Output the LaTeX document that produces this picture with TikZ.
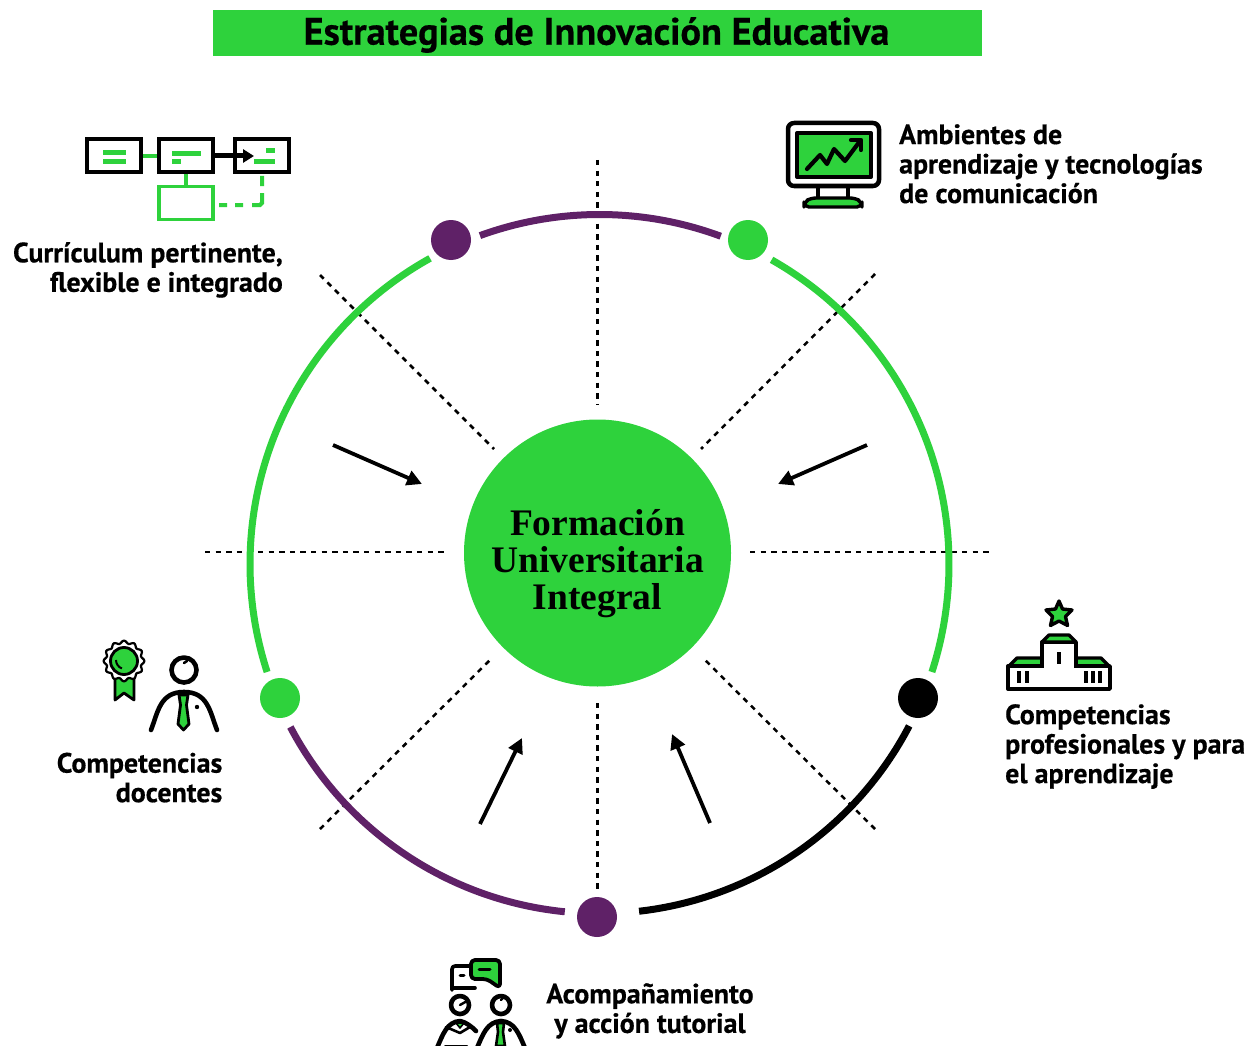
\documentclass[tikz,border=0pt]{standalone}
\usepackage{fontspec}
\setmainfont[BoldFeatures={FakeBold=0.5}]{PT Sans}
\newfontfamily\serifb{Liberation Serif}
\usetikzlibrary{arrows.meta}
\definecolor{grn}{HTML}{2ED23C}
\definecolor{purp}{HTML}{5F2167}
\tikzset{
  x=1pt,y=-1pt,
  ring/.style={line width=7pt},
  dot/.style={circle,minimum size=40pt,inner sep=0pt,draw=none},
  guide/.style={black,line width=2.5pt,dash pattern=on 5.3pt off 5.3pt},
  flow/.style={black,line width=3.8pt,-{Triangle[length=15pt,width=15pt]}},
  lab/.style={font=\fontsize{27.9}{29.5}\selectfont\bfseries,inner sep=0pt,align=left},
  ic/.style={line width=3.4pt,black,line join=round,line cap=round},
  box/.style={draw=black,line width=4pt,fill=white,minimum width=54pt,minimum height=33pt,inner sep=0pt},
}
\newcommand{\ringarc}[3]{\draw[ring,#1] plot[domain=#2:#3,samples=90] ({599.5+349.5*cos(\x)},{564-349.5*sin(\x)});}
\begin{document}
\begin{tikzpicture}
\useasboundingbox (0,0) rectangle (1248,1046);
\fill[white] (0,0) rectangle (1248,1046);
% title
\node[fill=grn,minimum width=769pt,minimum height=46pt,inner sep=0pt] (title) at (597.5,33) {};
\node[font=\fontsize{38.3}{38}\selectfont\bfseries,inner sep=0pt] (titlelab) at (596.5,35) {Estrategias de Innovación Educativa};
% guides
\coordinate (g1a) at (597.5,160); \coordinate (g1b) at (597.5,405);
\coordinate (g2a) at (597.5,703); \coordinate (g2b) at (597.5,890);
\coordinate (g3a) at (205,552); \coordinate (g3b) at (446,552);
\coordinate (g4a) at (750,552); \coordinate (g4b) at (990,552);
\coordinate (g5a) at (320,275); \coordinate (g5b) at (494,449);
\coordinate (g6a) at (875,274); \coordinate (g6b) at (701,449);
\coordinate (g7a) at (320,829); \coordinate (g7b) at (491,659);
\coordinate (g8a) at (875,829); \coordinate (g8b) at (704,659);
\foreach \i in {1,...,8} \draw[guide] (g\i a) -- (g\i b);
% ring
\ringarc{purp}{69.7}{110}
\ringarc{grn}{119}{198}
\ringarc{grn}{60.5}{-18}
\ringarc{black}{-27.6}{-83.5}
\ringarc{purp}{207.8}{264.3}
\node[dot,fill=purp] (d1) at (451,240) {};
\node[dot,fill=grn] (d2) at (748,240) {};
\node[dot,fill=black] (d3) at (918,698) {};
\node[dot,fill=purp] (d4) at (597,917) {};
\node[dot,fill=grn] (d5) at (280,698) {};
% centre
\node[circle,fill=grn,minimum size=267pt,inner sep=0pt] (centre) at (597.5,553) {};
\node[font=\fontsize{37.5}{37}\selectfont\serifb\bfseries,align=center,inner sep=0pt] (centrelab) at (597.5,564) {Formación\\Universitaria\\Integral};
% arrows
\coordinate (a1) at (333,445); \coordinate (b1) at (422,484);
\coordinate (a2) at (867,445); \coordinate (b2) at (778,484);
\coordinate (a3) at (480,824); \coordinate (b3) at (522,738);
\coordinate (a4) at (710,823); \coordinate (b4) at (672,734);
\foreach \i in {1,...,4} \draw[flow] (a\i) -- (b\i);
% labels
\node[lab,anchor=north east,align=right] (l1) at (283,242) {Currículum pertinente,\\flexible e integrado};
\node[lab,anchor=north west] (l2) at (899,124) {Ambientes de\\aprendizaje y tecnologías\\de comunicación};
\node[lab,anchor=north west] (l3) at (1005,704) {Competencias\\profesionales y para\\el aprendizaje};
\node[lab,anchor=north east,align=right] (l4) at (222.5,752.5) {Competencias\\docentes};
\node[lab,anchor=north,align=center] (l5) at (650,983) {Acompañamiento\\y acción tutorial};
% icon: curriculum
\node[box] (c1) at (114,156) {};
\node[box] (c2) at (186,156) {};
\node[box] (c3) at (262,156) {};
\node[draw=grn,line width=3.6pt,minimum width=54pt,minimum height=33pt,inner sep=0pt,fill=white] (c4) at (186,203) {};
\draw[grn,line width=4.5pt] (c1.east) -- (c2.west);
\draw[grn,line width=4.5pt] (c2.south) -- (c4.north);
\draw[black,line width=5pt,-{Triangle[length=11pt,width=13pt]}] (c2.east) -- (254,156);
\draw[grn,line width=4pt] (219,205) -- (227,205) (235,205) -- (243,205) (252,205) -- (260,205) -- (262,203) -- (262,193) (262,186) -- (262,176);
\foreach \a/\b/\y in {103/126/153,103/126/162,172/201/154,172/181/162,254/275/162,266/275/151}
  \draw[grn,line width=5pt] (\a,\y) -- (\b,\y);
% icon: monitor
\draw[ic,line width=4.5pt,fill=white,rounded corners=6pt] (788,123) rectangle (879,186);
\draw[ic,fill=grn,line width=4pt] (797,133) rectangle (871,177);
\draw[ic] (818,186) -- (818,197) (848,186) -- (848,197);
\draw[ic,fill=grn,rounded corners=5pt] (804,207) -- (804,202) -- (811,198) -- (855,198) -- (862,202) -- (862,207) -- cycle;
\draw[ic,line width=4.2pt] (807,169) -- (820,155) -- (827,164) -- (834,149) -- (845,161) -- (860,141);
\draw[ic,line width=4.2pt] (851,140) -- (861,140) -- (861,150);
% icon: building
\draw[ic,fill=grn] (1008,667) -- (1017,658) -- (1101,658) -- (1110,667) -- cycle;
\draw[ic,fill=white] (1008,666) -- (1110,666) -- (1110,689) -- (1008,689) -- cycle;
\draw[ic,fill=white] (1042,666) -- (1042,642) -- (1076,642) -- (1076,666) -- cycle;
\draw[ic,fill=grn] (1042,642) -- (1049,635) -- (1069,635) -- (1076,642) -- cycle;
\fill[white] (1043.7,660) rectangle (1074.3,668);
\draw[black,line width=4.2pt] (1059,652) -- (1059,664) (1019,671) -- (1019,683) (1027,671) -- (1027,683) (1086,671) -- (1086,683) (1093,671) -- (1093,683) (1100,671) -- (1100,683);
\draw[ic,fill=grn] (1059,601) -- (1062.5,609) -- (1072,610) -- (1065.5,616.5) -- (1067.5,625.5) -- (1059,621) -- (1050.5,625.5) -- (1052.5,616.5) -- (1046,610) -- (1055.5,609) -- cycle;
% icon: teacher + medal
\draw[ic,fill=grn,line width=2.8pt] (115,672) -- (115,700) -- (124,693) -- (134,700) -- (134,672) -- cycle;
\draw[ic,fill=white,line width=2.2pt] plot[domain=0:360,samples=97,smooth cycle] ({124+(19+1.4*cos(12*\x))*cos(\x)},{661+(19+1.4*cos(12*\x))*sin(\x)});
\draw[ic,fill=grn,line width=2.8pt] (124,661) circle[radius=13.5];
\draw[black,line width=2pt] (116,660) arc[start angle=180,end angle=110,radius=9];
\draw[ic,line width=4.6pt] (184,670) circle[radius=12.5];
\draw[ic,line width=2.6pt] (184,663) -- (187,661);
\draw[ic,line width=4.6pt] (151,730) .. controls (158,712) and (160,692) .. (184,692) .. controls (208,692) and (210,712) .. (217,730);
\draw[ic,fill=grn,line width=2.8pt] (179,695) -- (188,695) -- (186.5,705) -- (189,724) -- (183.5,730) -- (178,724) -- (180.5,705) -- cycle;
\fill (197,707) circle[radius=2.2];
% icon: tutoring
\draw[ic,fill=grn,line width=3.8pt,rounded corners=4pt] (471,960) -- (500,960) -- (500,988) -- (487,979) -- (471,979) -- cycle;
\draw[ic,line width=3pt] (479,969) -- (490,969);
\draw[ic,line width=3.6pt,rounded corners=3pt] (469,966) -- (452,966) -- (452,990);
\draw[ic,line width=3.6pt] (452,988) -- (475,988);
\draw[ic,line width=3pt] (460,975) -- (464,975);
\draw[ic,line width=4.6pt] (460,1005) circle[radius=9];
\draw[ic,line width=2.4pt] (460,1005) -- (467,1001);
\draw[ic,line width=4.6pt] (501,1005) circle[radius=9];
\draw[ic,line width=2.4pt] (501,1000) -- (503,998);
\draw[ic,line width=4.6pt] (437,1048) .. controls (443,1034) and (447,1022) .. (460,1021) .. controls (466,1022) and (472,1027) .. (476,1031);
\draw[ic,fill=grn,line width=1.6pt] (456,1023) -- (464,1023) -- (460,1028) -- cycle;
\draw[ic,line width=2.6pt] (446,1027) -- (460,1033) -- (470,1027);
\draw[ic,line width=4.6pt] (477,1048) .. controls (483,1034) and (487,1022) .. (501,1021) .. controls (515,1022) and (519,1034) .. (525,1048);
\draw[ic,fill=grn,line width=2.6pt] (497,1023) -- (504,1023) -- (503,1032) -- (505,1046) -- (496,1046) -- (498,1032) -- cycle;
\fill (510,1030) circle[radius=2];
\draw[ic,line width=3pt] (445,1046) -- (467,1046);
\end{tikzpicture}
\end{document}
